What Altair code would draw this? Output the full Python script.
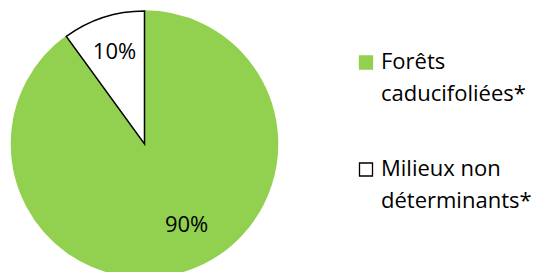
import altair as alt
import pandas as pd

categories = ["Forêts caducifoliées*", "Milieux non déterminants*"]
values = [90, 10]
labels = ["90%", "10%"]
fills = ["#92D050", "#FFFFFF"]
strokes = ["#92D050", "#000000"]

df = pd.DataFrame({
    "cat": categories,
    "value": values,
    "label": labels,
    "order": [0, 1],
})

color_scale = alt.Scale(domain=categories, range=fills)
stroke_scale = alt.Scale(domain=categories, range=strokes)

label_expr = ("datum.label == 'Forêts caducifoliées*' ? ['Forêts', 'caducifoliées*'] "
              ": ['Milieux non', 'déterminants*']")

def make_legend():
    return alt.Legend(
        title=None, orient="none", legendX=345, legendY=49, padding=0,
        symbolType="M-1,-2H1V0H-1Z", symbolSize=169, symbolStrokeWidth=1.3,
        labelFont="Open Sans", labelFontSize=22, labelColor="#000000",
        labelExpr=label_expr, labelBaseline="alphabetic",
        labelOffset=4, rowPadding=53, labelLimit=300,
    )

base = alt.Chart(df).encode(
    theta=alt.Theta("value:Q", stack=True),
    order=alt.Order("order:Q"),
)

pie = base.mark_arc(radius=133, strokeWidth=1.5).encode(
    fill=alt.Fill("cat:N", scale=color_scale, legend=make_legend()),
    stroke=alt.Stroke("cat:N", scale=stroke_scale, legend=make_legend()),
)

text_base = alt.Chart(df).transform_window(
    cum="sum(value)", sort=[alt.SortField("order")]
).transform_joinaggregate(
    total="sum(value)"
).transform_calculate(
    mid="(datum.cum - datum.value / 2) / datum.total"
).encode(
    theta=alt.Theta("mid:Q", scale=alt.Scale(domain=[0, 1])),
    text="label:N",
)

txt_big = text_base.mark_text(
    radius=91, font="Open Sans", fontSize=22, color="#000000", dx=14, dy=-6
).transform_filter(alt.datum.order == 0)
txt_small = text_base.mark_text(
    radius=97, font="Open Sans", fontSize=22, color="#000000"
).transform_filter(alt.datum.order == 1)

labels_layer = alt.layer(txt_big, txt_small)

chart = alt.layer(pie, labels_layer).resolve_scale(theta="independent").properties(
    width=269, height=270, padding=0
).configure_view(stroke=None).configure(style={"guide-label": {"lineHeight": 32}})

chart.save("out.html", embed_options={"renderer": "svg", "actions": False})
